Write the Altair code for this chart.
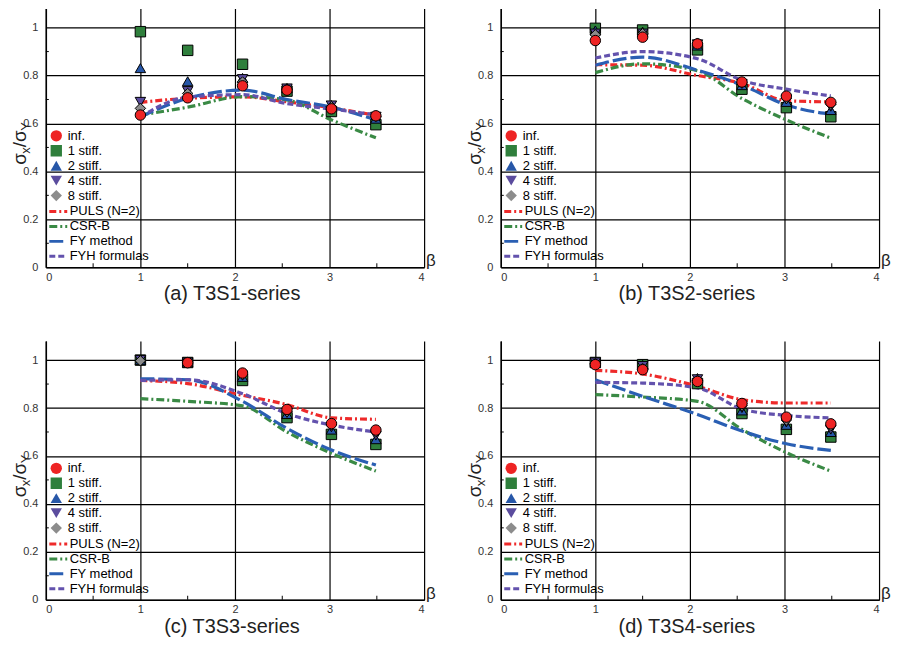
import altair as alt
import pandas as pd

# ---------------- data ----------------
BETA = [1.0, 1.5, 2.08, 2.55, 3.02, 3.49]
SERIES = ["inf.", "1 stiff.", "2 stiff.", "4 stiff.", "8 stiff."]
DRAW_ORDER = ["1 stiff.", "2 stiff.", "4 stiff.", "8 stiff.", "inf."]
METHODS = ["PULS (N=2)", "CSR-B", "FY method", "FYH formulas"]
TITLES = ["(a) T3S1-series", "(b) T3S2-series", "(c) T3S3-series", "(d) T3S4-series"]
MINOR_X = [0.5, 1.5, 2.5, 3.5]
MINOR_Y = [0.1, 0.3, 0.5, 0.7, 0.9]
X_TICKS = [0, 1, 2, 3, 4]
Y_TICKS = [0, 0.2, 0.4, 0.6, 0.8, 1.0]

# panel (a) T3S1
a_inf = [0.635, 0.707, 0.757, 0.739, 0.661, 0.632]
a_s1 = [0.983, 0.905, 0.847, 0.735, 0.650, 0.595]
a_s2 = [0.831, 0.776, 0.790, 0.748, 0.677, 0.620]
a_s4 = [0.690, 0.735, 0.785, 0.746, 0.675, 0.628]
a_s8 = [0.663, 0.725, 0.773, 0.743, 0.670, 0.630]
a_puls = [0.688, 0.705, 0.711, 0.690, 0.665, 0.634]
a_csr = [0.635, 0.668, 0.712, 0.698, 0.615, 0.540]
a_fy = [0.628, 0.705, 0.739, 0.700, 0.668, 0.615]
a_fyh = [0.628, 0.710, 0.720, 0.683, 0.660, 0.636]

# panel (b) T3S2
b_inf = [0.946, 0.960, 0.932, 0.773, 0.714, 0.688]
b_s1 = [0.997, 0.990, 0.907, 0.743, 0.666, 0.628]
b_s2 = [0.988, 0.983, 0.925, 0.760, 0.690, 0.656]
b_s4 = [0.975, 0.975, 0.930, 0.765, 0.700, 0.670]
b_s8 = [0.970, 0.975, 0.935, 0.770, 0.705, 0.680]
b_puls = [0.845, 0.843, 0.800, 0.767, 0.695, 0.690]
b_csr = [0.812, 0.849, 0.820, 0.704, 0.615, 0.539]
b_fy = [0.843, 0.877, 0.822, 0.760, 0.677, 0.638]
b_fyh = [0.873, 0.900, 0.870, 0.780, 0.743, 0.715]

# panel (c) T3S3
c_inf = [None, 0.989, 0.946, 0.794, 0.735, 0.708]
c_s1 = [1.000, 0.990, 0.915, 0.760, 0.690, 0.648]
c_s2 = [1.000, 0.990, 0.930, 0.775, 0.710, 0.670]
c_s4 = [1.000, 0.990, 0.935, 0.780, 0.720, 0.685]
c_s8 = [0.997, 0.990, 0.940, 0.785, 0.730, 0.700]
c_puls = [0.915, 0.902, 0.853, 0.814, 0.759, 0.753]
c_csr = [0.839, 0.828, 0.809, 0.700, 0.611, 0.537]
c_fy = [0.922, 0.918, 0.828, 0.715, 0.625, 0.562]
c_fyh = [0.915, 0.918, 0.860, 0.777, 0.729, 0.700]

# panel (d) T3S4
d_inf = [0.981, 0.960, 0.911, 0.819, 0.762, 0.734]
d_s1 = [0.990, 0.981, 0.902, 0.777, 0.711, 0.679]
d_s2 = [0.990, 0.980, 0.925, 0.790, 0.730, 0.700]
d_s4 = [0.990, 0.975, 0.920, 0.800, 0.740, 0.710]
d_s8 = [0.985, 0.965, 0.915, 0.810, 0.750, 0.725]
d_puls = [0.957, 0.942, 0.891, 0.835, 0.821, 0.821]
d_csr = [0.856, 0.846, 0.828, 0.711, 0.614, 0.537]
d_fy = [0.918, 0.849, 0.773, 0.704, 0.651, 0.623]
d_fyh = [0.907, 0.904, 0.884, 0.796, 0.769, 0.759]

PANELS = [
    (TITLES[0], {"inf.": a_inf, "1 stiff.": a_s1, "2 stiff.": a_s2, "4 stiff.": a_s4, "8 stiff.": a_s8},
     {"PULS (N=2)": a_puls, "CSR-B": a_csr, "FY method": a_fy, "FYH formulas": a_fyh}),
    (TITLES[1], {"inf.": b_inf, "1 stiff.": b_s1, "2 stiff.": b_s2, "4 stiff.": b_s4, "8 stiff.": b_s8},
     {"PULS (N=2)": b_puls, "CSR-B": b_csr, "FY method": b_fy, "FYH formulas": b_fyh}),
    (TITLES[2], {"inf.": c_inf, "1 stiff.": c_s1, "2 stiff.": c_s2, "4 stiff.": c_s4, "8 stiff.": c_s8},
     {"PULS (N=2)": c_puls, "CSR-B": c_csr, "FY method": c_fy, "FYH formulas": c_fyh}),
    (TITLES[3], {"inf.": d_inf, "1 stiff.": d_s1, "2 stiff.": d_s2, "4 stiff.": d_s4, "8 stiff.": d_s8},
     {"PULS (N=2)": d_puls, "CSR-B": d_csr, "FY method": d_fy, "FYH formulas": d_fyh}),
]

# ---------------- style ----------------
FONT = "Liberation Sans"
PT_COLORS = ["#ee2424", "#2f7f3c", "#2757a8", "#5b4c9e", "#8c8c8c"]
PT_SHAPES = ["circle", "square", "triangle-up", "triangle-down", "diamond"]
LN_COLORS = ["#ee2a2a", "#3a8a45", "#2a5fb3", "#6352ad"]
LN_DASH = [[7, 3, 2, 3], [8, 3, 2, 3], [14, 4], [6, 3]]
W, H = 380, 260

xscale = alt.Scale(domain=[0, 4], nice=False, zero=False)
yscale = alt.Scale(domain=[0, 1.08], nice=False, zero=False)

xaxis = alt.Axis(values=X_TICKS, format="~g", title=None, grid=True, gridColor="black",
                 gridWidth=1.2, gridOpacity=1, domainColor="black", domainWidth=1.5,
                 ticks=False, labelFontSize=11, labelFont=FONT, labelColor="#333333",
                 labelPadding=4)
yaxis = alt.Axis(values=Y_TICKS, format="~g", title=None, grid=True, gridColor="black",
                 gridWidth=1.2, gridOpacity=1, domainColor="black", domainWidth=1.5,
                 ticks=False, labelFontSize=11, labelFont=FONT, labelColor="#333333",
                 labelPadding=8)


def one_row():
    return pd.DataFrame({"k": [0]})


def panel(title, pts, lines):
    prow = []
    for s in DRAW_ORDER:
        for b, v in zip(BETA, pts[s]):
            if v is not None:
                prow.append({"beta": b, "value": v, "series": s})
    pdf = pd.DataFrame(prow)
    lrow = []
    for m in METHODS:
        for b, v in zip(BETA, lines[m]):
            lrow.append({"beta": b, "value": v, "method": m})
    ldf = pd.DataFrame(lrow)

    pt_legend = alt.Legend(title=None, orient="none", legendX=4, legendY=121.5,
                           symbolSize=130, symbolStrokeColor="black", symbolStrokeWidth=1,
                           labelFontSize=13, labelFont=FONT, labelColor="black",
                           clipHeight=13, rowPadding=1, labelOffset=5, padding=0)
    ln_legend = alt.Legend(title=None, orient="none", legendX=2, legendY=197.5,
                           symbolType="stroke", symbolSize=324, symbolStrokeWidth=3,
                           labelFontSize=13, labelFont=FONT, labelColor="black",
                           clipHeight=13, rowPadding=1, labelOffset=1, padding=0)

    line_layer = alt.Chart(ldf).mark_line(strokeWidth=3.2, interpolate="monotone").encode(
        x=alt.X("beta:Q", scale=xscale, axis=xaxis),
        y=alt.Y("value:Q", scale=yscale, axis=yaxis),
        stroke=alt.Stroke("method:N", scale=alt.Scale(domain=METHODS, range=LN_COLORS), legend=ln_legend),
        strokeDash=alt.StrokeDash("method:N", scale=alt.Scale(domain=METHODS, range=LN_DASH), legend=ln_legend),
    )
    pt_layer = alt.Chart(pdf).mark_point(filled=True, size=110, stroke="black",
                                         strokeWidth=1, opacity=1).encode(
        x=alt.X("beta:Q", scale=xscale, axis=xaxis),
        y=alt.Y("value:Q", scale=yscale, axis=yaxis),
        fill=alt.Fill("series:N", scale=alt.Scale(domain=SERIES, range=PT_COLORS), legend=pt_legend),
        shape=alt.Shape("series:N", scale=alt.Scale(domain=SERIES, range=PT_SHAPES), legend=pt_legend),
    )
    mx = alt.Chart(pd.DataFrame({"beta": MINOR_X})).mark_rule(color="black", strokeWidth=1).encode(
        x=alt.X("beta:Q", scale=xscale, axis=xaxis), y=alt.value(H), y2=alt.value(H - 4))
    my = alt.Chart(pd.DataFrame({"value": MINOR_Y})).mark_rule(color="black", strokeWidth=1).encode(
        y=alt.Y("value:Q", scale=yscale, axis=yaxis), x=alt.value(0), x2=alt.value(3))

    # y-axis title  sigma_x / sigma_Y (rotated, with subscripts)
    ax, ay = -20, 157
    yt = [
        alt.Chart(one_row()).mark_text(text="σ", angle=270, align="left", baseline="alphabetic",
                                        fontSize=19, font=FONT, color="#222222", dx=0).encode(
            x=alt.value(ax), y=alt.value(ay)),
        alt.Chart(one_row()).mark_text(text="x", angle=270, align="left", baseline="alphabetic",
                                        fontSize=13, font=FONT, color="#222222", dx=11, dy=4).encode(
            x=alt.value(ax), y=alt.value(ay)),
        alt.Chart(one_row()).mark_text(text="/σ", angle=270, align="left", baseline="alphabetic",
                                        fontSize=19, font=FONT, color="#222222", dx=17.5).encode(
            x=alt.value(ax), y=alt.value(ay)),
        alt.Chart(one_row()).mark_text(text="Y", angle=270, align="left", baseline="alphabetic",
                                        fontSize=13, font=FONT, color="#222222", dx=34, dy=4).encode(
            x=alt.value(ax), y=alt.value(ay)),
    ]
    beta_lbl = alt.Chart(one_row()).mark_text(text="β", align="left", baseline="alphabetic",
                                               fontSize=17, font=FONT, color="#222222").encode(
        x=alt.value(W + 2), y=alt.value(H - 1))
    ttl = alt.Chart(one_row()).mark_text(text=title, align="center", baseline="alphabetic",
                                          fontSize=20, font=FONT, color="#222222").encode(
        x=alt.value(W / 2 - 3), y=alt.value(H + 33))

    return alt.layer(mx, my, line_layer, pt_layer, *yt, beta_lbl, ttl).properties(width=W, height=H)


panels = [panel(*p) for p in PANELS]
RES = dict(fill="independent", shape="independent", stroke="independent",
           strokeDash="independent", x="independent", y="independent")

chart = alt.concat(*panels, columns=2, spacing=alt.RowColnumber(row=74, column=77),
                   bounds="flush").resolve_scale(**RES).properties(
    padding={"left": 3, "top": -1, "right": 0, "bottom": 0}, background="white"
).configure_view(strokeWidth=0)

chart.save("out.html", embed_options={"renderer": "svg", "actions": False})
